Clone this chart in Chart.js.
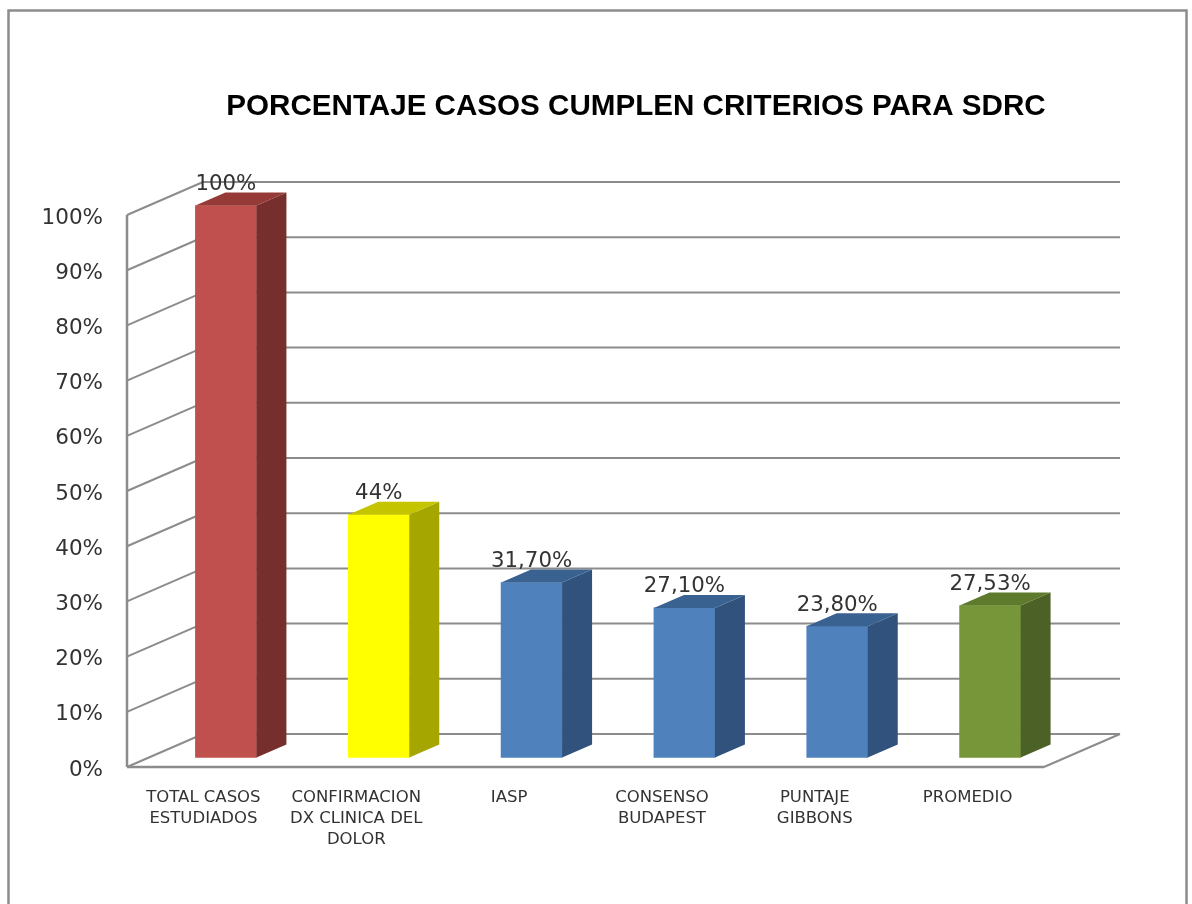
<!DOCTYPE html>
<html>
<head>
<meta charset="utf-8">
<title>Porcentaje casos</title>
<style>
    html, body { margin: 0; padding: 0; background: #fff; overflow: hidden; }
    canvas { display: block; }
</style>
<script src="https://cdn.jsdelivr.net/npm/chart.js@4/dist/chart.umd.min.js"></script>
</head>
<body>
<canvas id="sdrcChart" width="1192" height="904"></canvas>
<script>
const chartTitle = 'PORCENTAJE CASOS CUMPLEN CRITERIOS PARA SDRC';
const categories = [
    ['TOTAL CASOS', 'ESTUDIADOS'],
    ['CONFIRMACION', 'DX CLINICA DEL', 'DOLOR'],
    'IASP',
    ['CONSENSO', 'BUDAPEST'],
    ['PUNTAJE', 'GIBBONS'],
    'PROMEDIO'
];
const values = [100, 44, 31.7, 27.1, 23.8, 27.53];
const valueLabels = ['100%', '44%', '31,70%', '27,10%', '23,80%', '27,53%'];

// front, side and top colour of each bar
const barFaces = [
    ['#C0504D', '#772F2D', '#953A37'],
    ['#FFFF00', '#A6A600', '#C4C400'],
    ['#4F81BD', '#30527C', '#3A6291'],
    ['#4F81BD', '#30527C', '#3A6291'],
    ['#4F81BD', '#30527C', '#3A6291'],
    ['#779639', '#4C6125', '#5E7A2D']
];

const GRID_COLOR = '#8c8c8c';
const WALL_DX = 76, WALL_DY = -33;   // axis front to back wall
const BAR_DX = 22.5, BAR_DY = -9.5;  // bars stand a bit inside the floor
const DEPTH_DX = 30, DEPTH_DY = -13; // bar depth

function line(ctx, x1, y1, x2, y2) {
    ctx.beginPath();
    ctx.moveTo(x1, y1);
    ctx.lineTo(x2, y2);
    ctx.stroke();
}

function poly(ctx, points, color) {
    ctx.fillStyle = color;
    ctx.beginPath();
    points.forEach(([x, y], i) => i ? ctx.lineTo(x, y) : ctx.moveTo(x, y));
    ctx.closePath();
    ctx.fill();
}

const box3d = {
    id: 'box3d',
    afterLayout(chart) {
        // the title sits to the right of the canvas centre
        chart.titleBlock.left = 80;
        chart.titleBlock.right = 1192;
    },
    beforeDraw(chart) {
        const { ctx } = chart;
        ctx.save();
        ctx.strokeStyle = GRID_COLOR;
        ctx.lineWidth = 2.5;
        ctx.strokeRect(8.5, 10.5, 1178, 920);
        ctx.restore();
    },
    beforeDatasetsDraw(chart) {
        const { ctx, chartArea: area, scales: { y } } = chart;
        ctx.save();
        ctx.strokeStyle = GRID_COLOR;
        ctx.lineWidth = 2;
        y.ticks.forEach(tick => {
            const py = y.getPixelForValue(tick.value);
            line(ctx, area.left, py, area.left + WALL_DX, py + WALL_DY);
            line(ctx, area.left + WALL_DX, py + WALL_DY, area.right + WALL_DX, py + WALL_DY);
        });
        line(ctx, area.right, area.bottom, area.right + WALL_DX, area.bottom + WALL_DY);
        ctx.lineWidth = 2.5;
        line(ctx, area.left, area.top, area.left, area.bottom);
        line(ctx, area.left, area.bottom, area.right, area.bottom);
        ctx.restore();
    },
    beforeDatasetDraw(chart) {
        const { ctx } = chart;
        ctx.save();
        ctx.translate(BAR_DX, BAR_DY);
    },
    afterDatasetDraw(chart, args) {
        const { ctx } = chart;
        args.meta.data.forEach((bar, i) => {
            const r = bar.x + bar.width / 2, l = bar.x - bar.width / 2;
            poly(ctx, [[r, bar.y], [r + DEPTH_DX, bar.y + DEPTH_DY], [r + DEPTH_DX, bar.base + DEPTH_DY], [r, bar.base]], barFaces[i][1]);
            poly(ctx, [[l, bar.y], [l + DEPTH_DX, bar.y + DEPTH_DY], [r + DEPTH_DX, bar.y + DEPTH_DY], [r, bar.y]], barFaces[i][2]);
        });
        ctx.restore();
    },
    afterDatasetsDraw(chart) {
        const { ctx } = chart;
        ctx.save();
        ctx.font = '21.3px "DejaVu Sans"';
        ctx.fillStyle = '#333';
        ctx.textAlign = 'center';
        ctx.textBaseline = 'alphabetic';
        chart.getDatasetMeta(0).data.forEach((bar, i) => {
            ctx.fillText(valueLabels[i], bar.x + BAR_DX, bar.y + BAR_DY - 15.5);
        });
        ctx.restore();
    }
};

new Chart(document.getElementById('sdrcChart'), {
    type: 'bar',
    data: {
        labels: categories,
        datasets: [{
            data: values,
            backgroundColor: barFaces.map(f => f[0]),
            barThickness: 61,
            clip: false
        }]
    },
    options: {
        responsive: false,
        animation: false,
        layout: { padding: { left: 0, right: 148, top: 0, bottom: 0 } },
        plugins: {
            legend: { display: false },
            tooltip: { enabled: false },
            title: {
                display: true,
                text: chartTitle,
                color: '#000',
                font: { family: '"Liberation Sans"', size: 29.6, weight: 'bold', lineHeight: 1.2 },
                padding: { top: 89.2, bottom: 90.3 }
            }
        },
        scales: {
            x: {
                grid: { display: false },
                border: { display: false },
                afterFit: s => { s.height = 137; },
                ticks: {
                    autoSkip: false,
                    maxRotation: 0,
                    padding: 12,
                    color: '#333',
                    font: { family: '"DejaVu Sans"', size: 16.5, lineHeight: 1.27 }
                }
            },
            y: {
                min: 0,
                max: 100,
                grid: { display: false },
                border: { display: false },
                afterFit: s => { s.width = 127; },
                ticks: {
                    stepSize: 10,
                    padding: 16,
                    labelOffset: 3,
                    color: '#333',
                    font: { family: '"DejaVu Sans"', size: 21.5 },
                    callback: v => v + '%'
                }
            }
        }
    },
    plugins: [box3d]
});
</script>
</body>
</html>
